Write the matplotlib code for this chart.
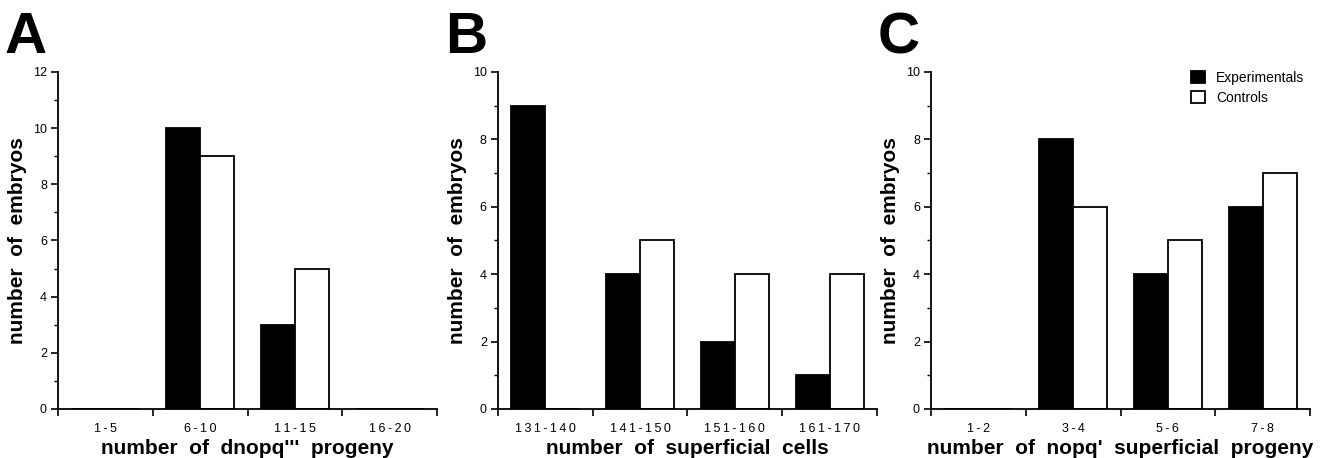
import numpy as np
import matplotlib
matplotlib.use('Agg')
import matplotlib.pyplot as plt

plt.rcParams['font.family'] = ['Liberation Sans', 'DejaVu Sans']

# panel A
cats_a = ['1-5', '6-10', '11-15', '16-20']
exp_a = [0, 10, 3, 0]
ctl_a = [0, 9, 5, 0]
# panel B
cats_b = ['131-140', '141-150', '151-160', '161-170']
exp_b = [9, 4, 2, 1]
ctl_b = [0, 5, 4, 4]
# panel C
cats_c = ['1-2', '3-4', '5-6', '7-8']
exp_c = [0, 8, 4, 6]
ctl_c = [0, 6, 5, 7]

xlabels = ["number  of  dnopq'''  progeny",
           "number  of  superficial  cells",
           "number  of  nopq'  superficial  progeny"]
ymaxs = [12, 10, 10]
letters = ['A', 'B', 'C']

def spaced(s):
    # the original tick labels are letter-spaced
    return '\u2009'.join(s)

fig = plt.figure(figsize=(13.3, 4.58), dpi=100)
lefts = [0.0436, 0.3744, 0.700]
w = 0.285

panels = [(cats_a, exp_a, ctl_a), (cats_b, exp_b, ctl_b), (cats_c, exp_c, ctl_c)]
for k, (cats, ex, ct) in enumerate(panels):
    ax = fig.add_axes([lefts[k], 0.107, w, 0.736])
    x = np.arange(len(cats)) + 0.5
    bw = 0.36
    ax.bar(x - bw/2, ex, bw, color='black', edgecolor='black', linewidth=1.3,
           label='Experimentals')
    ax.bar(x + bw/2, ct, bw, color='white', edgecolor='black', linewidth=1.3,
           label='Controls')
    ax.set_xlim(0, len(cats))
    ax.set_ylim(0, ymaxs[k])
    ax.spines['top'].set_visible(False)
    ax.spines['right'].set_visible(False)
    ax.spines['left'].set_linewidth(1.3)
    ax.spines['bottom'].set_linewidth(1.3)
    # ticks at bin edges, labels at centres
    ax.set_xticks(np.arange(len(cats) + 1))
    ax.set_xticklabels([])
    ax.set_xticks(x, minor=True)
    ax.set_xticklabels([spaced(c) for c in cats], minor=True, fontsize=9)
    ax.tick_params(axis='x', which='minor', length=0, pad=10)
    ax.tick_params(axis='x', which='major', length=5, width=1.2, direction='out')
    ax.set_yticks(np.arange(0, ymaxs[k] + 1, 2))
    ax.set_yticks(np.arange(1, ymaxs[k], 2), minor=True)
    ax.tick_params(axis='y', which='major', length=5, width=1.2, labelsize=9, pad=3)
    ax.tick_params(axis='y', which='minor', length=3, width=1.0)
    ax.set_ylabel('number  of  embryos', fontsize=15, fontweight='bold', labelpad=4)
    ax.set_xlabel(xlabels[k], fontsize=15, fontweight='bold', labelpad=3)
    fig.text(lefts[k] - 0.04, 0.975, letters[k], fontsize=42, fontweight='bold',
             ha='left', va='top')
    if k == 2:
        ax.legend(loc='upper right', frameon=False, fontsize=10,
                  handlelength=1.0, handleheight=1.0, borderaxespad=0.0,
                  bbox_to_anchor=(1.0, 1.02), labelspacing=0.45)

fig.savefig('out.png', dpi=100)
